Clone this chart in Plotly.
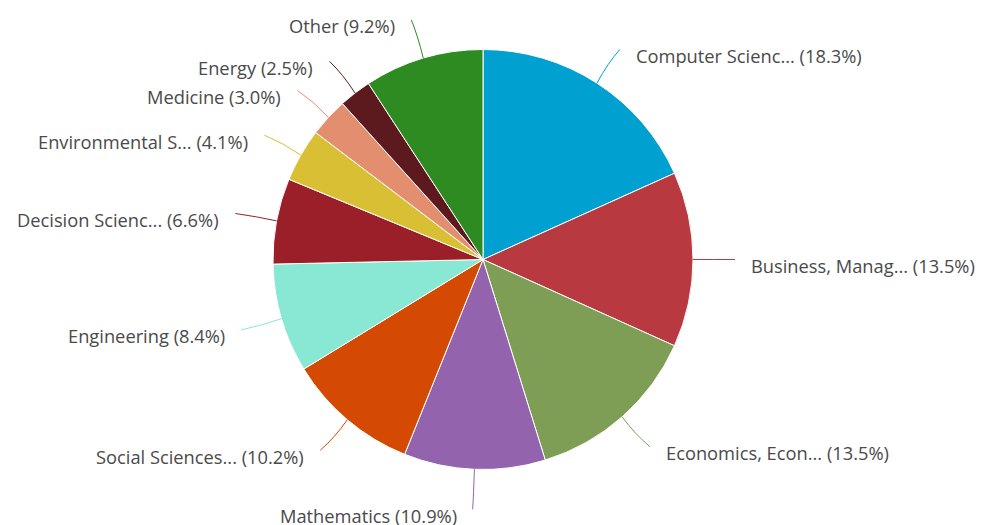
import math
import plotly.graph_objects as go

labels = ["Computer Scienc...", "Business, Manag...", "Economics, Econ...", "Mathematics",
          "Social Sciences...", "Engineering", "Decision Scienc...", "Environmental S...",
          "Medicine", "Energy", "Other"]
values = [18.3, 13.5, 13.5, 10.9, 10.2, 8.4, 6.6, 4.1, 3.0, 2.5, 9.2]
colors = ["#00a0d0", "#b83a40", "#7e9e56", "#9463ae", "#d44a02", "#88e8d4",
          "#9b1f28", "#d8bf33", "#e38e6f", "#5c1a1e", "#2e8b22"]

W, H = 981, 525
CX, CY, R = 483, 259.5, 210
FONT = "Open Sans"

fig = go.Figure()
fig.add_trace(go.Pie(
    labels=labels, values=values, sort=False, direction="clockwise", rotation=0,
    marker=dict(colors=colors, line=dict(color="white", width=1)),
    textinfo="none", hoverinfo="label+percent", showlegend=False,
    domain=dict(x=[(CX - R) / W, (CX + R) / W], y=[(H - CY - R) / H, (H - CY + R) / H]),
))

total = sum(values)
cum = 0.0
shapes, annotations = [], []
for lab, v, c in zip(labels, values, colors):
    mid = (cum + v / 2) / total * 2 * math.pi
    cum += v
    s, co = math.sin(mid), math.cos(mid)
    sx, sy = CX + R * s, CY - R * co
    ex, ey = CX + (R + 42) * s, CY - (R + 40) * co
    right = s >= 0
    mx, my = CX + (R + 20) * s, CY - (R + 24) * co
    shapes.append(dict(type="path", xref="x", yref="y",
                       path=f"M {sx:.1f},{sy:.1f} Q {mx:.1f},{my:.1f} {ex:.1f},{ey:.1f}",
                       line=dict(color=c, width=1)))
    annotations.append(dict(
        x=ex + (14 if right else -14), y=ey + 6, xref="x", yref="y",
        text=f"{lab} ({v:.1f}%)", showarrow=False,
        xanchor="left" if right else "right", yanchor="middle",
        font=dict(family=FONT, size=18.3, color="#4a4a4a"),
    ))

fig.update_layout(
    width=W, height=H, margin=dict(l=0, r=0, t=0, b=0),
    paper_bgcolor="white", plot_bgcolor="rgba(0,0,0,0)",
    xaxis=dict(range=[0, W], visible=False, fixedrange=True),
    yaxis=dict(range=[H, 0], visible=False, fixedrange=True),
    shapes=shapes, annotations=annotations,
)
fig.write_html("out.html", config={"displayModeBar": False},
               post_script="document.body.style.margin='0';document.body.style.overflow='hidden';")
